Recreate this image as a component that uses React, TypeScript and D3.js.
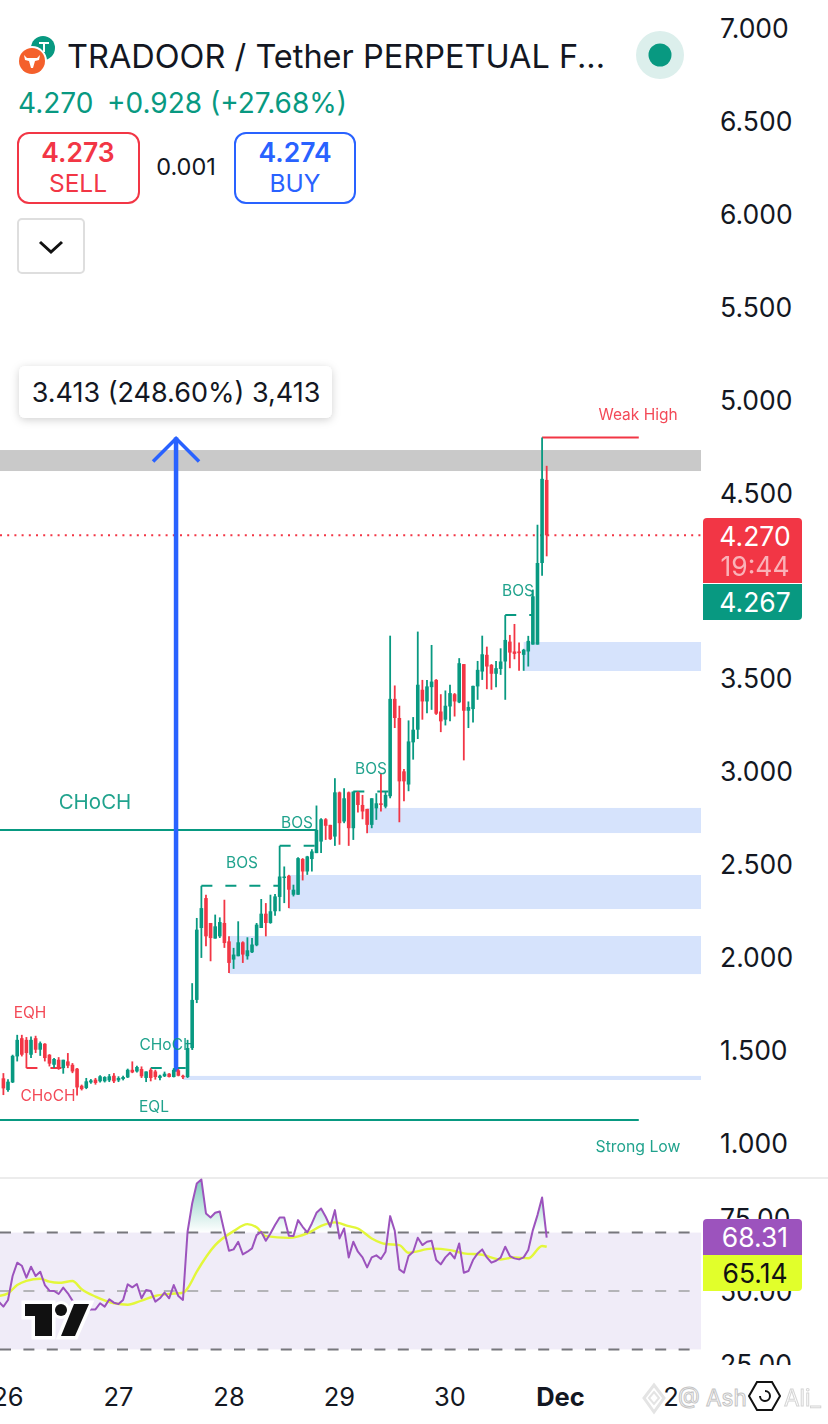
import React from 'react';
import * as d3 from 'd3';

const FONT = 'Inter, Roboto, sans-serif';
const GREEN = '#089981';
const RED = '#f23645';
const BLUE = '#2962ff';
const ZONE = '#d6e3fc';
const PURPLE = '#9c53bd';
const YELLOW = '#e3f73a';

// hourly candles, first one is one hour before 26 Nov 00:00
const FIRST_HOUR = -1;
const opens = [
  1.348, 1.285, 1.326, 1.466, 1.564, 1.555, 1.475, 1.564, 1.502, 1.534,
  1.475, 1.421, 1.448, 1.403, 1.439, 1.421, 1.4, 1.308, 1.296, 1.326,
  1.341, 1.332, 1.332, 1.337, 1.362, 1.337, 1.344, 1.353, 1.394, 1.385,
  1.398, 1.35, 1.394, 1.385, 1.35, 1.359, 1.373, 1.355, 1.391, 1.362,
  1.355, 1.511, 1.77, 2.157, 2.318, 2.184, 2.1, 2.112, 2.184, 2.085,
  1.987, 2.005, 2.08, 2.005, 2.026, 2.064, 2.157, 2.234, 2.184, 2.247,
  2.324, 2.427, 2.438, 2.336, 2.336, 2.528, 2.461, 2.528, 2.56, 2.622,
  2.742, 2.712, 2.649, 2.887, 2.73, 2.887, 2.694, 2.887, 2.819, 2.798,
  2.712, 2.801, 2.828, 2.81, 2.866, 3.39, 3.287, 3.0, 2.929, 3.156,
  3.224, 3.439, 3.376, 3.453, 3.492, 3.322, 3.278, 3.349, 3.415, 3.371,
  3.577, 3.326, 3.335, 3.457, 3.537, 3.627, 3.573, 3.525, 3.551, 3.591,
  3.698, 3.645, 3.645, 3.627, 3.645, 3.682, 3.682, 4.121, 4.568,
];
const highs = [
  1.376, 1.343, 1.475, 1.582, 1.582, 1.57, 1.573, 1.577, 1.546, 1.537,
  1.478, 1.457, 1.462, 1.448, 1.484, 1.43, 1.403, 1.314, 1.35, 1.344,
  1.35, 1.364, 1.359, 1.371, 1.376, 1.359, 1.362, 1.4, 1.439, 1.416,
  1.412, 1.385, 1.403, 1.394, 1.367, 1.384, 1.376, 1.403, 1.398, 1.367,
  1.555, 1.86, 2.211, 2.384, 2.336, 2.184, 2.229, 2.214, 2.309, 2.112,
  2.05, 2.193, 2.085, 2.107, 2.103, 2.184, 2.313, 2.291, 2.336, 2.34,
  2.599, 2.488, 2.443, 2.39, 2.537, 2.533, 2.545, 2.581, 2.816, 2.748,
  2.748, 2.712, 2.963, 2.891, 2.909, 2.891, 2.891, 2.891, 2.873, 2.798,
  2.855, 2.882, 2.989, 2.891, 3.73, 3.462, 3.353, 3.013, 3.274, 3.292,
  3.752, 3.492, 3.492, 3.68, 3.496, 3.415, 3.435, 3.466, 3.421, 3.609,
  3.577, 3.376, 3.46, 3.594, 3.73, 3.671, 3.577, 3.594, 3.662, 3.841,
  3.734, 3.793, 3.693, 3.659, 3.729, 3.978, 4.327, 4.796, 4.644,
];
const lows = [
  1.258, 1.276, 1.323, 1.439, 1.466, 1.403, 1.457, 1.484, 1.469, 1.439,
  1.412, 1.403, 1.394, 1.373, 1.403, 1.376, 1.255, 1.283, 1.29, 1.319,
  1.314, 1.326, 1.326, 1.328, 1.323, 1.328, 1.337, 1.35, 1.376, 1.38,
  1.35, 1.328, 1.332, 1.341, 1.337, 1.355, 1.353, 1.353, 1.359, 1.344,
  1.35, 1.502, 1.753, 1.996, 2.059, 1.978, 2.1, 2.103, 2.05, 1.915,
  1.937, 2.005, 1.969, 1.987, 2.023, 2.059, 2.157, 2.112, 2.18, 2.223,
  2.247, 2.291, 2.264, 2.327, 2.336, 2.413, 2.443, 2.461, 2.56, 2.56,
  2.631, 2.631, 2.599, 2.605, 2.721, 2.599, 2.631, 2.778, 2.742, 2.667,
  2.694, 2.739, 2.784, 2.801, 2.855, 3.233, 2.726, 2.839, 2.893, 3.063,
  3.174, 3.278, 3.313, 3.331, 3.304, 3.211, 3.247, 3.269, 3.295, 3.367,
  3.059, 3.233, 3.263, 3.385, 3.492, 3.442, 3.439, 3.453, 3.519, 3.385,
  3.555, 3.603, 3.541, 3.541, 3.564, 3.682, 3.682, 4.053, 4.157,
];
const closes = [
  1.294, 1.33, 1.469, 1.555, 1.475, 1.484, 1.555, 1.502, 1.537, 1.457,
  1.427, 1.452, 1.403, 1.448, 1.416, 1.385, 1.299, 1.29, 1.332, 1.337,
  1.323, 1.359, 1.355, 1.359, 1.332, 1.35, 1.355, 1.394, 1.38, 1.409,
  1.359, 1.385, 1.35, 1.355, 1.362, 1.373, 1.355, 1.394, 1.362, 1.355,
  1.511, 1.77, 2.148, 2.264, 2.112, 2.103, 2.166, 2.189, 2.076, 1.969,
  2.014, 2.08, 2.014, 2.037, 2.068, 2.175, 2.234, 2.184, 2.247, 2.327,
  2.434, 2.434, 2.363, 2.363, 2.533, 2.461, 2.542, 2.569, 2.685, 2.742,
  2.707, 2.635, 2.887, 2.721, 2.855, 2.694, 2.891, 2.819, 2.784, 2.712,
  2.855, 2.828, 2.819, 2.873, 3.39, 3.287, 2.946, 2.946, 3.161, 3.224,
  3.466, 3.376, 3.457, 3.483, 3.31, 3.269, 3.353, 3.421, 3.376, 3.582,
  3.326, 3.346, 3.46, 3.546, 3.63, 3.564, 3.525, 3.555, 3.591, 3.707,
  3.639, 3.632, 3.636, 3.654, 3.702, 3.942, 4.121, 4.574, 4.27,
];

// rsi pane, starts two hours before 26 Nov
const RSI_FIRST_HOUR = -2;
const rsiValues = [
  46.36, 44.65, 46.93, 55.13, 59.69, 58.66, 54.56, 58.32, 55.13, 56.61,
  52.05, 50.12, 50.0, 48.98, 51.14, 49.2, 46.7, 43.5, 42.4, 42.9,
  43.7, 43.7, 45.8, 44.65, 47.15, 46.0, 45.56, 46.93, 52.28, 51.26,
  52.39, 47.5, 50.35, 50.0, 46.36, 47.5, 49.43, 47.5, 52.05, 48.29,
  46.93, 70.29, 79.97, 86.81, 88.18, 76.55, 75.19, 76.78, 77.24, 70.29,
  63.79, 64.25, 66.87, 62.54, 63.45, 64.59, 69.15, 70.29, 67.21, 69.72,
  72.57, 75.19, 75.19, 68.92, 68.81, 74.28, 72.0, 70.06, 73.14, 76.78,
  78.26, 75.42, 72.0, 77.69, 68.01, 71.43, 61.51, 66.87, 63.45, 61.51,
  58.09, 61.51, 62.2, 60.94, 63.45, 75.64, 70.63, 57.41, 56.27, 61.97,
  63.45, 68.24, 65.73, 66.87, 67.21, 60.6, 59.12, 61.51, 63.11, 61.17,
  66.3, 56.27, 56.84, 60.6, 62.88, 64.25, 61.51, 59.69, 60.37, 61.4,
  65.16, 61.97, 61.17, 60.83, 61.51, 64.02, 70.86, 75.99, 82.03, 68.31,
];
const rsiMaHours = [
  -2, 0, 2, 4, 7, 9, 11, 14, 16, 19, 23, 26, 29, 32, 35, 38, 39, 41, 45, 49, 52,
  54, 56, 61, 65, 68, 71, 74, 76, 79, 82, 85, 87, 88, 92, 96, 99, 103, 107, 110, 113, 116, 117,
];
const rsiMaValues = [
  48.3, 49.2, 52.05, 53.5, 54.2, 53.2, 52.8, 53.4, 50.6, 48.1, 45.8, 45.3, 46.7, 48.3, 49.0, 49.4, 50.9, 56.6, 65.7, 70.5, 72.9,
  71.8, 68.8, 68.2, 69.7, 72.3, 73.5, 72.2, 71.4, 68.0, 66.1, 65.7, 63.1, 63.3, 64.5, 64.0, 62.9, 62.4, 60.8, 61.5, 61.2, 65.4, 65.14,
];

// 4.000 sits behind the last price tags, so it is not listed
const priceTicks = [1, 1.5, 2, 2.5, 3, 3.5, 4.5, 5, 5.5, 6, 6.5, 7];
const rsiTicks = [25, 50, 75];
const timeTickHours = [0, 24, 48, 72, 96, 120, 144];
const timeTickLabels = ['26', '27', '28', '29', '30', 'Dec', '2'];

// order blocks: top price, bottom price, first hour
const zoneTops = [3.696, 2.803, 2.442, 2.114, 1.361];
const zoneBottoms = [3.54, 2.668, 2.259, 1.909, 1.339];
const zoneStarts = [112, 78, 61, 48, 38];

// dashed structure breaks: from hour, to hour, price
const bosFrom = [42, 59, 75, 108, 31];
const bosTo = [59, 67, 83, 114, 39];
const bosPrice = [2.384, 2.599, 2.891, 3.841, 1.403];

const PANE_RIGHT = 701;
const WEAK_HIGH = 4.796;
const STRONG_LOW = 1.124;
const CHOCH_LEVEL = 2.684;
const LAST_PRICE = 4.27;
const ARROW_HOUR = 36.5;
const ARROW_FROM = 1.383;

const x = d3.scaleLinear().domain([0, 144]).range([8, 671]);
const y = d3.scaleLinear().domain([1, 7]).range([1143, 28]);
const rsiY = d3.scaleLinear().domain([25, 75]).range([1364, 1218]);

const rsiHours = rsiValues.map((_, i) => i + RSI_FIRST_HOUR);
const rsiLine = d3
  .line<number>()
  .x((_, i) => x(rsiHours[i]))
  .y((d) => rsiY(d));
const rsiArea = d3
  .area<number>()
  .x((_, i) => x(rsiHours[i]))
  .y0(rsiY(70))
  .y1((d) => rsiY(d));
const maLine = d3
  .line<number>()
  .x((_, i) => x(rsiMaHours[i]))
  .y((d) => rsiY(d))
  .curve(d3.curveMonotoneX);

const Label = ({ at, top, color, size = 15.5, children }: any) => (
  <text x={at} y={top} fill={color} fontSize={size} textAnchor="middle" dominantBaseline="central" opacity={0.9}>
    {children}
  </text>
);

const App: React.FC = () => {
  const arrowX = x(ARROW_HOUR);
  const arrowTop = y(WEAK_HIGH);
  return (
    <svg
      width={828}
      height={1424}
      viewBox="0 0 828 1424"
      fontFamily={FONT}
      style={{ position: 'absolute', left: 0, top: 0, display: 'block', background: '#fff' }}
    >
      <defs>
        <linearGradient id="rsiGlow" gradientUnits="userSpaceOnUse" x1="0" y1={rsiY(88)} x2="0" y2={rsiY(70)}>
          <stop offset="0" stopColor={GREEN} stopOpacity={0.5} />
          <stop offset="1" stopColor={GREEN} stopOpacity={0} />
        </linearGradient>
        <clipPath id="above70">
          <rect x={0} y={rsiY(90)} width={PANE_RIGHT} height={rsiY(70) - rsiY(90)} />
        </clipPath>
        <clipPath id="rsiScale">
          <rect x={703} y={1180} width={125} height={185} />
        </clipPath>
        <filter id="boxShadow" x="-10%" y="-30%" width="120%" height="170%">
          <feDropShadow dx="0" dy="2" stdDeviation="4" floodColor="#000" floodOpacity="0.18" />
        </filter>
      </defs>

      {/* zones */}
      <rect x={0} y={y(4.729)} width={PANE_RIGHT} height={y(4.616) - y(4.729)} fill="#c9c9c9" />
      {zoneTops.map((top, i) => (
        <rect
          key={i}
          x={x(zoneStarts[i])}
          y={y(top)}
          width={PANE_RIGHT - x(zoneStarts[i])}
          height={y(zoneBottoms[i]) - y(top)}
          fill={ZONE}
        />
      ))}

      {/* levels */}
      <line x1={0} x2={PANE_RIGHT} y1={y(LAST_PRICE)} y2={y(LAST_PRICE)} stroke={RED} strokeWidth={2} strokeDasharray="2 5.2" />
      <line x1={0} x2={x(67)} y1={y(CHOCH_LEVEL)} y2={y(CHOCH_LEVEL)} stroke={GREEN} strokeWidth={2} />
      <line x1={0} x2={x(137)} y1={y(STRONG_LOW)} y2={y(STRONG_LOW)} stroke={GREEN} strokeWidth={2} />
      <line x1={x(116)} x2={x(137)} y1={y(WEAK_HIGH)} y2={y(WEAK_HIGH)} stroke={RED} strokeWidth={2} />
      {bosFrom.map((from, i) => (
        <line
          key={i}
          x1={x(from)}
          x2={x(bosTo[i])}
          y1={y(bosPrice[i])}
          y2={y(bosPrice[i])}
          stroke={GREEN}
          strokeWidth={2}
          strokeDasharray="11 13"
        />
      ))}
      <line x1={x(4)} x2={x(12)} y1={y(1.403)} y2={y(1.403)} stroke={RED} strokeWidth={2} strokeDasharray="11 13" />

      {/* measure arrow */}
      <g stroke={BLUE} fill="none" strokeWidth={4.5}>
        <line x1={arrowX} x2={arrowX} y1={y(ARROW_FROM)} y2={arrowTop} />
        <path d={`M${arrowX - 23},${arrowTop + 24}L${arrowX},${arrowTop + 1}L${arrowX + 23},${arrowTop + 24}`} strokeWidth={3.5} />
      </g>

      {/* candles */}
      {opens.map((open, i) => {
        const close = closes[i];
        const cx = x(i + FIRST_HOUR);
        const color = close < open ? RED : GREEN;
        const top = y(Math.max(open, close));
        const bottom = y(Math.min(open, close));
        return (
          <g key={i}>
            <line x1={cx} x2={cx} y1={y(highs[i])} y2={y(lows[i])} stroke={color} strokeWidth={1.8} />
            <rect x={cx - 1.8} y={top} width={3.6} height={Math.max(bottom - top, 1.5)} fill={color} />
          </g>
        );
      })}

      {/* smc labels */}
      <Label at={95} top={801} color={GREEN} size={20.5}>CHoCH</Label>
      <Label at={242} top={862} color={GREEN}>BOS</Label>
      <Label at={297} top={822} color={GREEN}>BOS</Label>
      <Label at={371} top={768} color={GREEN}>BOS</Label>
      <Label at={518} top={590} color={GREEN}>BOS</Label>
      <Label at={30} top={1012} color={RED}>EQH</Label>
      <Label at={48} top={1095} color={RED}>CHoCH</Label>
      <Label at={167} top={1044} color={GREEN}>CHoCH</Label>
      <Label at={154} top={1106} color={GREEN}>EQL</Label>
      <Label at={638} top={414} color={RED}>Weak High</Label>
      <Label at={638} top={1146} color={GREEN} size={15.8}>Strong Low</Label>

      {/* measure box */}
      <rect x={19} y={366} width={313} height={52} rx={6} fill="#fff" filter="url(#boxShadow)" />
      <text x={176} y={392} fontSize={27} textAnchor="middle" dominantBaseline="central" fill="#131722">
        3.413 (248.60%) 3,413
      </text>

      {/* price scale */}
      {priceTicks.map((t) => (
        <text key={t} x={720} y={y(t)} fontSize={26.5} dominantBaseline="central" fill="#131722">
          {t.toFixed(3)}
        </text>
      ))}
      <path d="M703,522a4,4 0 0 1 4,-4H798a4,4 0 0 1 4,4V583H703Z" fill={RED} />
      <text x={755} y={536} fontSize={26.5} textAnchor="middle" dominantBaseline="central" fill="#fff">4.270</text>
      <text x={755} y={566} fontSize={26.5} textAnchor="middle" dominantBaseline="central" fill="#fff" opacity={0.62}>19:44</text>
      <path d="M703,584H802V616a4,4 0 0 1 -4,4H703Z" fill={GREEN} />
      <text x={755} y={602} fontSize={26.5} textAnchor="middle" dominantBaseline="central" fill="#fff">4.267</text>

      {/* rsi pane */}
      <line x1={0} x2={828} y1={1178} y2={1178} stroke="#e6e6e6" strokeWidth={1.5} />
      <rect x={0} y={rsiY(70)} width={PANE_RIGHT} height={rsiY(30) - rsiY(70)} fill="#f0ecf8" />
      {[70, 50, 30].map((lvl) => (
        <line
          key={lvl}
          x1={0}
          x2={PANE_RIGHT}
          y1={rsiY(lvl)}
          y2={rsiY(lvl)}
          stroke={lvl === 50 ? '#b4b4b8' : '#77777c'}
          strokeWidth={2}
          strokeDasharray="11 12.4"
        />
      ))}
      <path d={rsiArea(rsiValues) ?? ''} fill="url(#rsiGlow)" clipPath="url(#above70)" />
      <path d={maLine(rsiMaValues) ?? ''} fill="none" stroke={YELLOW} strokeWidth={2.4} />
      <path d={rsiLine(rsiValues) ?? ''} fill="none" stroke={PURPLE} strokeWidth={2} strokeLinejoin="round" />

      {/* tradingview mark */}
      <g>
        <path
          d="M25,1304H52V1336H35V1316H25Z M74,1304H89L75,1336H61Z"
          fill="#fff"
          stroke="#fff"
          strokeWidth={7}
          strokeLinejoin="miter"
        />
        <circle cx={61} cy={1310} r={9} fill="#fff" />
        <path d="M25,1304H52V1336H35V1316H25Z M74,1304H89L75,1336H61Z" fill="#111" />
        <circle cx={61} cy={1310} r={6} fill="#111" />
      </g>

      {/* rsi scale */}
      <g clipPath="url(#rsiScale)">
        {rsiTicks.map((t) => (
          <text key={t} x={720} y={rsiY(t)} fontSize={26.5} dominantBaseline="central" fill="#131722">
            {t.toFixed(2)}
          </text>
        ))}
      </g>
      <path d="M703,1223a4,4 0 0 1 4,-4H798a4,4 0 0 1 4,4V1255H703Z" fill={PURPLE} />
      <text x={755} y={1237} fontSize={26.5} textAnchor="middle" dominantBaseline="central" fill="#fff">68.31</text>
      <path d="M703,1255H802V1287a4,4 0 0 1 -4,4H703Z" fill="#e1ff2b" />
      <text x={755} y={1273} fontSize={26.5} textAnchor="middle" dominantBaseline="central" fill="#111">65.14</text>

      {/* time axis */}
      {timeTickHours.map((h, i) => (
        <text
          key={h}
          x={x(h)}
          y={1396}
          fontSize={25.5}
          textAnchor="middle"
          dominantBaseline="central"
          fontWeight={timeTickLabels[i] === 'Dec' ? 700 : 400}
          fill="#131722"
        >
          {timeTickLabels[i]}
        </text>
      ))}

      {/* header */}
      <circle cx={43} cy={48} r={12} fill={GREEN} />
      <path d="M39,42h10v2h-4v8h-2v-8h-4Z" fill="#fff" />
      <circle cx={32} cy={61} r={15} fill="#fff" />
      <circle cx={32} cy={61} r={13} fill="#f4602c" />
      <path d="M24,55l3,3h10l3,-3l-1,5l-4,1l-2,7h-2l-2,-7l-4,-1Z" fill="#fff" />
      <text x={67} y={56} fontSize={32.5} dominantBaseline="central" fill="#131722">
        TRADOOR / Tether PERPETUAL F...
      </text>
      <circle cx={660} cy={55} r={24} fill="#dcefec" />
      <circle cx={660} cy={55} r={11.5} fill={GREEN} />
      <text x={18} y={103} fontSize={28} dominantBaseline="central" fill={GREEN}>4.270</text>
      <text x={107} y={103} fontSize={28} dominantBaseline="central" fill={GREEN}>+0.928 (+27.68%)</text>

      <rect x={18} y={133} width={121} height={70} rx={11} fill="#fff" stroke={RED} strokeWidth={2} />
      <text x={78} y={152} fontSize={26.5} fontWeight={600} textAnchor="middle" dominantBaseline="central" fill={RED}>4.273</text>
      <text x={78} y={183} fontSize={24.5} textAnchor="middle" dominantBaseline="central" fill={RED}>SELL</text>
      <text x={186} y={166} fontSize={23.5} textAnchor="middle" dominantBaseline="central" fill="#131722">0.001</text>
      <rect x={235} y={133} width={120} height={70} rx={11} fill="#fff" stroke={BLUE} strokeWidth={2} />
      <text x={295} y={152} fontSize={26.5} fontWeight={600} textAnchor="middle" dominantBaseline="central" fill={BLUE}>4.274</text>
      <text x={295} y={183} fontSize={24.5} textAnchor="middle" dominantBaseline="central" fill={BLUE}>BUY</text>
      <rect x={18} y={219} width={66} height={54} rx={4} fill="#fff" stroke="#dedede" strokeWidth={2} />
      <path d="M40,242L51,252L62,242" fill="none" stroke="#111" strokeWidth={3} />

      {/* watermark */}
      <g fill="#fff" stroke="#c4c4c4" strokeWidth={1}>
        <path d="M654,1385L664,1398L654,1412L644,1398Z" fill="none" strokeWidth={3} stroke="#e4e4e4" />
        <path d="M654,1392L659,1398L654,1404L649,1398Z" fill="none" strokeWidth={2} stroke="#e4e4e4" />
        <text x={678} y={1397} fontSize={22.5} dominantBaseline="central">@ Ash</text>
        <text x={784} y={1397} fontSize={22.5} dominantBaseline="central" opacity={0.7}>Ali_</text>
      </g>
      <path d="M757,1382H772L780,1396L772,1410H757L749,1396Z" fill="#fff" stroke="#111" strokeWidth={2} />
      <path d="M760,1396a5,5 0 1 0 5,-5" fill="none" stroke="#111" strokeWidth={2} />
    </svg>
  );
};

export default App;
